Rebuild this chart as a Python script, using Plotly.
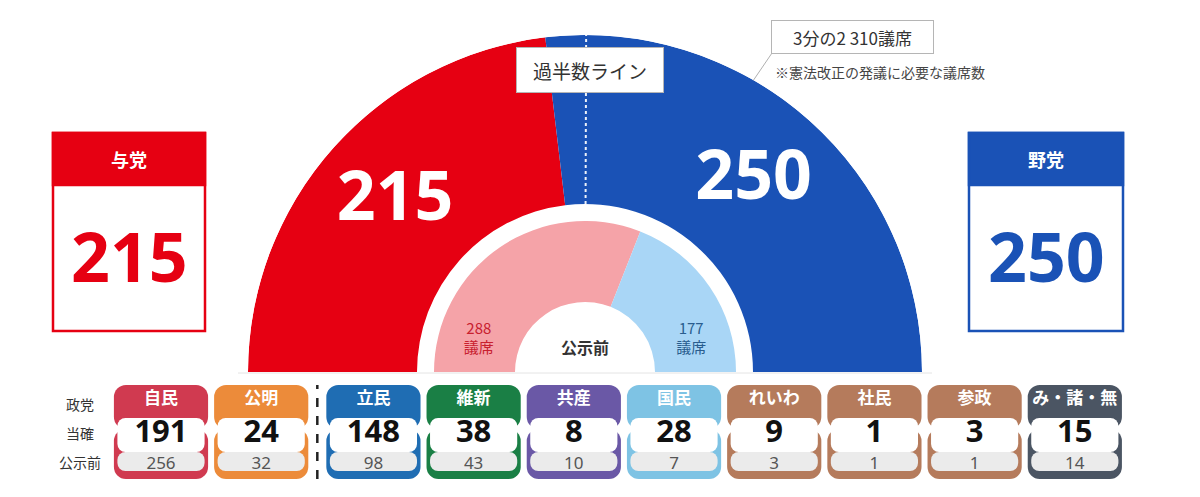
import plotly.graph_objects as go
import numpy as np

# ---------------- data ----------------
TOTAL_SEATS = 465
MAJORITY = 233
TWO_THIRDS = 310

blocs = ["与党", "野党"]
bloc_seats = [215, 250]          # 当確
bloc_prev = [288, 177]           # 公示前
bloc_colors = ["#e60012", "#1a52b6"]
bloc_prev_colors = ["#f5a3a8", "#a9d6f6"]
bloc_prev_text_colors = ["#c8202f", "#2a5d8e"]

parties = ["自民", "公明", "立民", "維新", "共産", "国民", "れいわ", "社民", "参政", "み・諸・無"]
party_bloc = ["与党", "与党", "野党", "野党", "野党", "野党", "野党", "野党", "野党", "野党"]
party_won = [191, 24, 148, 38, 8, 28, 9, 1, 3, 15]
party_prev = [256, 32, 98, 43, 10, 7, 3, 1, 1, 14]
party_colors = ["#d03a50", "#ec8b3a", "#1f6db3", "#1a7f45", "#6a58a6",
                "#7ec3e4", "#b57b5c", "#b57b5c", "#b57b5c", "#4b5563"]
row_labels = ["政党", "当確", "公示前"]

JP = "Noto Sans CJK JP"
NUM = "Noto Sans, Noto Sans CJK JP"

W, H = 1200, 497


def px_x(x):
    return x / W


def px_y(y):
    return 1 - y / H


fig = go.Figure()

# ---------------- semicircle (polar) ----------------
deg_per_seat = 180.0 / TOTAL_SEATS
seats = np.array(bloc_seats)
prev = np.array(bloc_prev)
out_theta = (np.cumsum(seats) - seats / 2) * deg_per_seat
out_width = seats * deg_per_seat
in_theta = (np.cumsum(prev) - prev / 2) * deg_per_seat
in_width = prev * deg_per_seat

R_OUT, R_OUT_IN = 337, 168
R_IN, R_IN_IN = 151, 70

fig.add_trace(go.Barpolar(
    r=[R_OUT - R_OUT_IN] * 2, base=[R_OUT_IN] * 2, theta=out_theta, width=out_width,
    marker=dict(color=bloc_colors, line=dict(width=0)), hoverinfo="skip", showlegend=False))
fig.add_trace(go.Barpolar(
    r=[R_IN - R_IN_IN] * 2, base=[R_IN_IN] * 2, theta=in_theta, width=in_width,
    marker=dict(color=bloc_prev_colors, line=dict(width=0)), hoverinfo="skip", showlegend=False))

# majority dashed line
maj_deg = MAJORITY * deg_per_seat
fig.add_trace(go.Scatterpolar(
    r=[R_OUT_IN, R_OUT], theta=[maj_deg, maj_deg], mode="lines",
    line=dict(color="#eef2fa", width=2, dash="dot"), hoverinfo="skip", showlegend=False))

# big numbers in outer ring
fig.add_trace(go.Scatterpolar(
    r=[254, 254], theta=out_theta, mode="text", text=[str(s) for s in bloc_seats],
    textfont=dict(family=NUM, size=68, color="white", weight="bold"),
    cliponaxis=False, hoverinfo="skip", showlegend=False))

# previous-seat labels in inner ring
for i in range(2):
    fig.add_trace(go.Scatterpolar(
        r=[111], theta=[17 if i == 0 else 163], mode="text",
        text=[f"{bloc_prev[i]}<br>議席"],
        textfont=dict(family=JP, size=15, color=bloc_prev_text_colors[i]),
        cliponaxis=False, hoverinfo="skip", showlegend=False))
fig.add_trace(go.Scatterpolar(
    r=[22], theta=[90], mode="text", text=["公示前"],
    textfont=dict(family=JP, size=16, color="#333333", weight="bold"),
    cliponaxis=False, hoverinfo="skip", showlegend=False))

CX, CY = 585, 372
fig.update_layout(polar=dict(
    domain=dict(x=[px_x(CX - R_OUT), px_x(CX + R_OUT)], y=[px_y(CY), px_y(CY - R_OUT)]),
    sector=[0, 180], hole=0, bgcolor="white",
    angularaxis=dict(visible=False, direction="clockwise", rotation=180),
    radialaxis=dict(visible=False, range=[0, R_OUT]),
))

# ---------------- party boxes (cartesian) ----------------
gap = 0.12
xpos = [i + (gap if b == "野党" else 0) for i, b in enumerate(party_bloc)]
n = len(parties)
BOX_H = 94


def bar(y, base, width, color, radius):
    return go.Bar(x=xpos, y=[y] * n, base=[base] * n, width=width,
                  marker=dict(color=color, line=dict(width=0), cornerradius=radius),
                  hoverinfo="skip", showlegend=False, xaxis="x", yaxis="y")


fig.add_trace(bar(44, 50, 0.94, party_colors, 12))
fig.add_trace(bar(-50, 50, 0.94, party_colors, 12))
fig.add_trace(bar(34, 27, 0.87, "white", 8))
fig.add_trace(bar(-19, 27, 0.87, "#ebebeb", 8))

fig.add_trace(go.Scatter(x=xpos, y=[79] * n, mode="text", text=parties,
                         textfont=dict(family=JP, size=17, color="white", weight="bold"),
                         hoverinfo="skip", showlegend=False, cliponaxis=False))
fig.add_trace(go.Scatter(x=xpos, y=[45] * n, mode="text", text=[str(v) for v in party_won],
                         textfont=dict(family=NUM, size=31, color="#111111", weight="bold"),
                         hoverinfo="skip", showlegend=False, cliponaxis=False))
fig.add_trace(go.Scatter(x=xpos, y=[14] * n, mode="text", text=[str(v) for v in party_prev],
                         textfont=dict(family=NUM, size=17, color="#555555"),
                         hoverinfo="skip", showlegend=False, cliponaxis=False))

# axis so that 1 unit ~ 100 px, first box centred at 161 px
unit = 100.2
x0 = -161 / unit
fig.update_layout(
    xaxis=dict(domain=[0, 1], range=[x0, x0 + W / unit], visible=False, fixedrange=True),
    yaxis=dict(domain=[px_y(479), px_y(385)], range=[0, BOX_H], visible=False, fixedrange=True),
    barmode="overlay",
)

# divider between blocs
div_x = (xpos[1] + xpos[2]) / 2
shapes = [dict(type="line", xref="x", yref="y", x0=div_x, x1=div_x, y0=0, y1=BOX_H,
               line=dict(color="#222222", width=2.5, dash="dash"))]

annotations = []


def ann(x, y, text, **kw):
    d = dict(x=px_x(x), y=px_y(y), xref="paper", yref="paper", text=text,
             showarrow=False, xanchor="center", yanchor="middle")
    d.update(kw)
    annotations.append(d)


for lab, y in zip(row_labels, [404, 433, 462]):
    ann(80, y, lab, font=dict(family=JP, size=14, color="#333333"))

# ---------------- bloc summary boxes ----------------
for i, (x_l, x_r) in enumerate([(53, 205), (969, 1123)]):
    c = bloc_colors[i]
    shapes.append(dict(type="rect", xref="paper", yref="paper",
                       x0=px_x(x_l), x1=px_x(x_r), y0=px_y(331), y1=px_y(133),
                       fillcolor="white", line=dict(color=c, width=2.5)))
    shapes.append(dict(type="rect", xref="paper", yref="paper",
                       x0=px_x(x_l), x1=px_x(x_r), y0=px_y(185), y1=px_y(133),
                       fillcolor=c, line=dict(color=c, width=2.5)))
    xc = (x_l + x_r) / 2
    ann(xc, 159, f"<b>{blocs[i]}</b>", font=dict(family=JP, size=18, color="white"))
    ann(xc, 255, f"<b>{bloc_seats[i]}</b>", font=dict(family=NUM, size=68, color=c))

# bottom baseline of semicircle
shapes.append(dict(type="line", xref="paper", yref="paper",
                   x0=px_x(CX - R_OUT - 10), x1=px_x(CX + R_OUT + 10), y0=px_y(373), y1=px_y(373),
                   line=dict(color="#e4e4e4", width=1)))

# two-thirds leader line
ang = np.deg2rad(180 - TWO_THIRDS * deg_per_seat)
ax_px = CX + R_OUT * np.cos(ang)
ay_px = CY - R_OUT * np.sin(ang)
shapes.append(dict(type="line", xref="paper", yref="paper",
                   x0=px_x(ax_px), y0=px_y(ay_px), x1=px_x(772), y1=px_y(53),
                   line=dict(color="#b0b0b0", width=1)))

ann(590, 70, "過半数ライン", width=144, height=42,
    bgcolor="white", bordercolor="#b5b5b5", borderwidth=1, borderpad=1,
    font=dict(family=JP, size=19, color="#333333"))
ann(852, 37, f"3分の2 {TWO_THIRDS}議席", width=159, height=30,
    bgcolor="white", bordercolor="#b5b5b5", borderwidth=1, borderpad=1,
    font=dict(family=JP, size=17, color="#333333"))
ann(773, 72, "※憲法改正の発議に必要な議席数", xanchor="left",
    font=dict(family=JP, size=14, color="#444444"))

fig.update_layout(
    width=W, height=H, autosize=False,
    margin=dict(l=0, r=0, t=0, b=0),
    paper_bgcolor="white", plot_bgcolor="rgba(0,0,0,0)",
    shapes=shapes, annotations=annotations, showlegend=False,
)

fig.write_html("out.html", config={"displayModeBar": False},
               post_script="document.body.style.margin='0';document.body.style.overflow='hidden';")
